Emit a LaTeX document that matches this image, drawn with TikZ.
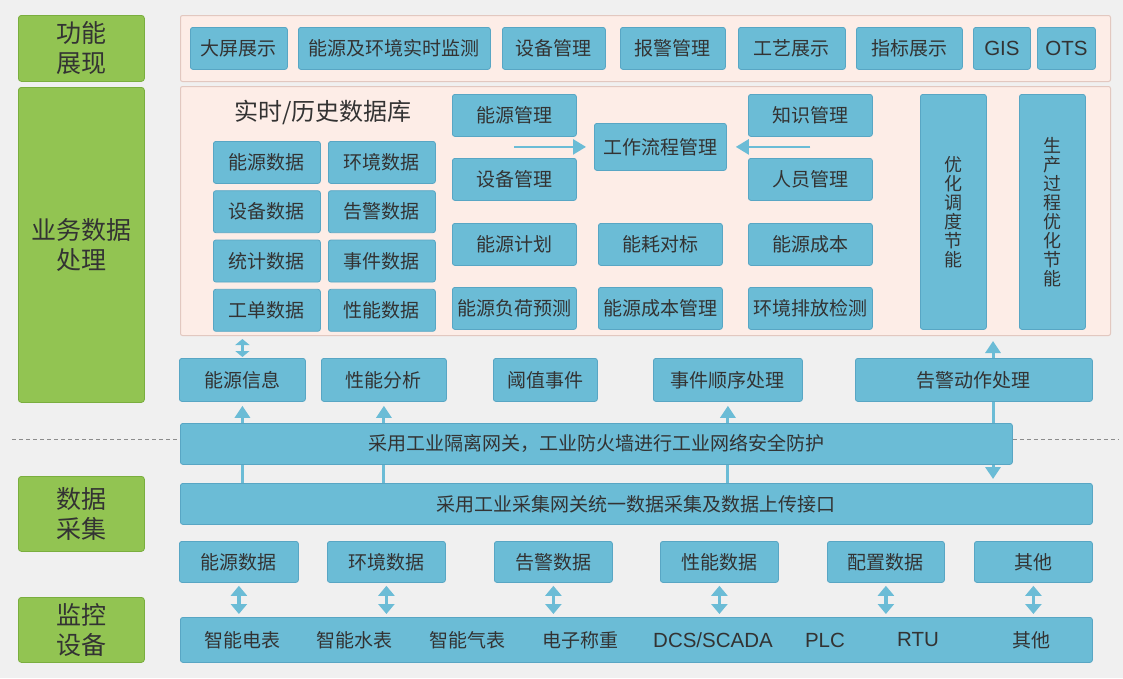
\documentclass[tikz,border=0pt]{standalone}
\usepackage{fontspec}
\setmainfont{Noto Sans CJK SC}
\newfontfamily\latinfont{Liberation Sans}
\usetikzlibrary{arrows.meta, positioning, calc}
\definecolor{pagegray}{RGB}{240,240,240}
\definecolor{panelpink}{RGB}{253,237,231}
\definecolor{panelline}{RGB}{226,200,192}
\definecolor{boxblue}{RGB}{107,188,214}
\definecolor{boxline}{RGB}{88,166,196}
\definecolor{labelgreen}{RGB}{146,196,82}
\definecolor{labelline}{RGB}{122,174,62}
\definecolor{textgray}{RGB}{51,51,51}
\definecolor{dashgray}{RGB}{140,140,140}
\pgfdeclarelayer{back}
\pgfsetlayers{back,main}
\newcommand{\lat}[1]{{\latinfont\fontsize{20.5}{22}\selectfont #1}}

\begin{document}
\begin{tikzpicture}[x=1pt, y=-1pt,
    blk/.style={rectangle, draw=boxline, fill=boxblue, rounded corners=2.5pt, line width=0.8pt, inner sep=0pt, anchor=north west, text=textgray, font=\fontsize{19}{21}\selectfont},
    dbcell/.style={blk, minimum width=107pt, minimum height=42pt},
    midcell/.style={blk, minimum width=124pt, minimum height=42pt},
    vcell/.style={blk, minimum width=66pt, minimum height=235pt, align=center, font=\fontsize{18}{19}\selectfont},
    lbl/.style={rectangle, draw=labelline, fill=labelgreen, rounded corners=3pt, line width=0.8pt, inner sep=0pt, anchor=north west, minimum width=126pt, align=center, text=textgray, font=\fontsize{25}{30}\selectfont},
    panel/.style={rectangle, draw=panelline, fill=panelpink, rounded corners=2pt, line width=1pt, anchor=north west, minimum width=930pt},
    flowarrow/.style={-{Triangle[length=13pt, width=15pt]}, line width=2.5pt, draw=boxblue},
    upflow/.style={-{Triangle[length=12pt, width=15pt]}, line width=3pt, draw=boxblue},
    bothflow/.style={{Triangle[length=12pt, width=15pt]}-{Triangle[length=12pt, width=15pt]}, line width=3pt, draw=boxblue},
    linkflow/.style={{Triangle[length=10pt, width=16pt]}-{Triangle[length=10pt, width=16pt]}, line width=3.5pt, draw=boxblue},
    tinyflow/.style={{Triangle[length=6pt, width=14pt]}-{Triangle[length=6pt, width=14pt]}, line width=3.5pt, draw=boxblue},
    sepline/.style={draw=dashgray, line width=0.8pt, dash pattern=on 4pt off 3pt}]

    \begin{pgfonlayer}{back}
        \fill[pagegray] (0,0) rectangle (1123,678);
    \end{pgfonlayer}
    \useasboundingbox (0,0) rectangle (1123,678);

    \node[lbl, minimum height=66pt] (showlbl) at (18,15) {功能\\展现};
    \node[lbl, minimum height=315pt] (proclbl) at (18,87) {业务数据\\处理};
    \node[lbl, minimum height=75pt] (acqlbl) at (18,476) {数据\\采集};
    \node[lbl, minimum height=65pt] (devlbl) at (18,597) {监控\\设备};

    \node[panel, minimum height=66pt] (showpanel) at (180,15) {};
    \node[panel, minimum height=249pt] (procpanel) at (180,86) {};

    \foreach \xx/\ww/\txt in {190/97/大屏展示, 298/192/能源及环境实时监测, 502/103/设备管理, 620/105/报警管理, 738/107/工艺展示, 856/106/指标展示, 973/57/\lat{GIS}, 1037/58/\lat{OTS}}
        \node[blk, minimum width=\ww pt, minimum height=42pt] (show\xx) at (\xx,27) {\txt};

    \node[text=textgray, font=\fontsize{24}{26}\selectfont] (dbtitle) at (323,112) {实时/历史数据库};
    \node[dbcell] (dbenergy) at (213,141) {能源数据};
    \node[dbcell, below=6.5pt of dbenergy] (dbdevice) {设备数据};
    \node[dbcell, below=6.5pt of dbdevice] (dbstat) {统计数据};
    \node[dbcell, below=6.5pt of dbstat] (dbwork) {工单数据};
    \node[dbcell] (dbenv) at (328,141) {环境数据};
    \node[dbcell, below=6.5pt of dbenv] (dbalarm) {告警数据};
    \node[dbcell, below=6.5pt of dbalarm] (dbevent) {事件数据};
    \node[dbcell, below=6.5pt of dbevent] (dbperf) {性能数据};

    \node[midcell] (enmgr) at (452,94) {能源管理};
    \node[midcell] (devmgr) at (452,158) {设备管理};
    \node[blk, minimum width=132pt, minimum height=47pt] (wf) at (594,123) {工作流程管理};
    \node[midcell] (kmgr) at (748,94) {知识管理};
    \node[midcell] (pmgr) at (748,158) {人员管理};
    \node[midcell] (enplan) at (452,223) {能源计划};
    \node[midcell] (bench) at (598,223) {能耗对标};
    \node[midcell] (encost) at (748,223) {能源成本};
    \node[midcell] (loadfc) at (452,287) {能源负荷预测};
    \node[midcell] (costmgr) at (598,287) {能源成本管理};
    \node[midcell] (emission) at (748,287) {环境排放检测};

    \node[vcell] (optsched) at (920,94) {优\\化\\调\\度\\节\\能};
    \node[vcell] (optproc) at (1019,94) {生\\产\\过\\程\\优\\化\\节\\能};

    \node[blk, minimum width=126pt, minimum height=43pt] (eninfo) at (179,358) {能源信息};
    \node[blk, minimum width=125pt, minimum height=43pt] (perfan) at (321,358) {性能分析};
    \node[blk, minimum width=104pt, minimum height=43pt] (thresh) at (493,358) {阈值事件};
    \node[blk, minimum width=149pt, minimum height=43pt] (seqproc) at (653,358) {事件顺序处理};
    \node[blk, minimum width=237pt, minimum height=43pt] (alarmact) at (855,358) {告警动作处理};

    \node[blk, minimum width=832pt, minimum height=41pt] (fw) at (180,423) {采用工业隔离网关，工业防火墙进行工业网络安全防护};
    \node[blk, minimum width=912pt, minimum height=41pt] (collect) at (180,483) {采用工业采集网关统一数据采集及数据上传接口};

    \node[blk, minimum width=119pt, minimum height=41pt] (rawenergy) at (179,541) {能源数据};
    \node[blk, minimum width=118pt, minimum height=41pt] (rawenv) at (327,541) {环境数据};
    \node[blk, minimum width=118pt, minimum height=41pt] (rawalarm) at (494,541) {告警数据};
    \node[blk, minimum width=118pt, minimum height=41pt] (rawperf) at (660,541) {性能数据};
    \node[blk, minimum width=117pt, minimum height=41pt] (rawconf) at (827,541) {配置数据};
    \node[blk, minimum width=118pt, minimum height=41pt] (rawother) at (974,541) {其他};

    \node[blk, minimum width=912pt, minimum height=45pt] (dev) at (180,617) {};
    \foreach \xx/\txt in {242/智能电表, 354/智能水表, 467/智能气表, 580/电子称重, 713/\lat{DCS/SCADA}, 825/\lat{PLC}, 918/\lat{RTU}, 1031/其他}
        \node[text=textgray, font=\fontsize{19}{21}\selectfont] (dev\xx) at (\xx,640) {\txt};

    \coordinate (wfin) at ($(enmgr.south)!0.5!(devmgr.north)$);
    \coordinate (wfout) at ($(kmgr.south)!0.5!(pmgr.north)$);
    \draw[flowarrow, shorten >=8pt] (wfin |- wf.west) -- (wf.west);
    \draw[flowarrow, shorten >=9pt] (wfout |- wf.east) -- (wf.east);

    \draw[tinyflow, shorten <=3pt, shorten >=1pt] (procpanel.south -| eninfo.north) -- (eninfo.north);

    \begin{pgfonlayer}{back}
        \draw[upflow, shorten >=4pt] (collect.north -| eninfo.south) -- (eninfo.south);
        \draw[upflow, shorten >=4pt] (collect.north -| perfan.south) -- (perfan.south);
        \draw[upflow, shorten >=4pt] (collect.north -| seqproc.south) -- (seqproc.south);
        \coordinate (alarmx) at (993,0);
        \draw[bothflow, shorten <=5pt, shorten >=4pt] (procpanel.south -| alarmx) -- (collect.north -| alarmx);
    \end{pgfonlayer}

    \foreach \nm in {rawenergy, rawenv, rawalarm, rawperf, rawconf, rawother}
        \draw[linkflow, shorten <=3pt, shorten >=3pt] (\nm.south) -- (dev.north -| \nm.south);

    \coordinate (dashl) at (12,439);
    \coordinate (dashr) at (1118,439);
    \draw[sepline] (dashl) -- (dashl -| fw.west);
    \draw[sepline] (dashr -| fw.east) -- (dashr);
\end{tikzpicture}
\end{document}
